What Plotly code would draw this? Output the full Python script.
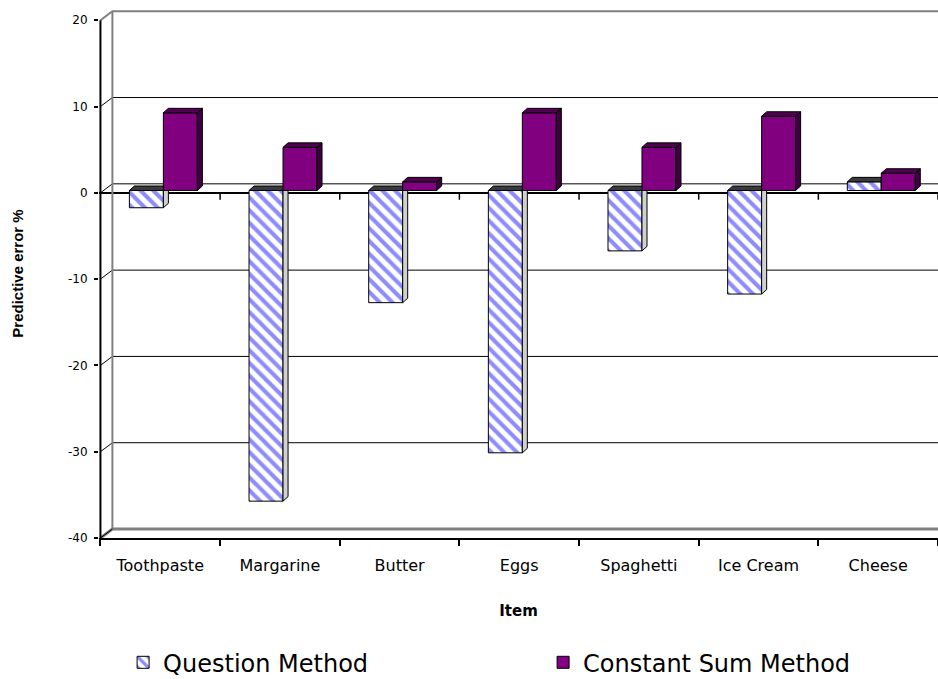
import plotly.graph_objects as go

# ---- data ----------------------------------------------------------------
items = ["Toothpaste", "Margarine", "Butter", "Eggs", "Spaghetti", "Ice Cream", "Cheese"]
question_method = [-2, -36, -13, -30.4, -7, -12, 1]
constant_sum_method = [9, 5, 1, 9, 5, 8.6, 2]
y_tick_values = [-40, -30, -20, -10, 0, 10, 20]
y_tick_text = [str(v) for v in y_tick_values]   # plain hyphen minus signs

# ---- geometry of the pseudo-3D box (axis units) ----------------------------
Y_MIN, Y_MAX = -40, 20
Y_HEADROOM = 1.3            # room above the top tick for the receding wall
X_PAD = 0.012
N = len(items)
WALL_DX, WALL_DY = 0.10, 1.04      # depth of the back wall
BAR_DX, BAR_DY = 0.042, 0.52       # depth of each column
PLANE_DX, PLANE_DY = 0.026, 0.27   # front plane of the columns
BAR_W = 0.284

W, H = 938, 679
LEFT_PX, RIGHT_PX = 100, 938
TOP_PX, BOTTOM_PX = 20, 538
px_x = (RIGHT_PX - LEFT_PX) / N
px_y = (BOTTOM_PX - TOP_PX) / (Y_MAX - Y_MIN)
m_l = LEFT_PX - X_PAD * px_x
m_t = TOP_PX - Y_HEADROOM * px_y
m_b = H - BOTTOM_PX

PURPLE = "#800080"
PURPLE_SIDE = "#3f003f"
PURPLE_TOP = "#520052"
HATCH = "#8c8cff"
GRAY = "#808080"
TICK_FONT = "DejaVu Sans"

fig = go.Figure()


def seg_trace(xs, ys, color, width):
    return go.Scatter(x=xs, y=ys, mode="lines", line=dict(color=color, width=width),
                      hoverinfo="skip", showlegend=False, xaxis="x", yaxis="y")


# back wall gridlines with their receding diagonals
gx, gy = [], []
for v in y_tick_values:
    if v in (Y_MIN, Y_MAX):
        continue
    gx += [0, WALL_DX, N, None]
    gy += [v, v + WALL_DY, v + WALL_DY, None]
fig.add_trace(seg_trace(gx, gy, "black", 1))

# outline of the back wall: top edge, left edge
fig.add_trace(seg_trace([0, WALL_DX, N, None, WALL_DX, WALL_DX],
                        [Y_MAX, Y_MAX + WALL_DY, Y_MAX + WALL_DY, None,
                         Y_MIN + WALL_DY, Y_MAX + WALL_DY], GRAY, 2))
# floor edge
fig.add_trace(seg_trace([0, WALL_DX, N], [Y_MIN, Y_MIN + WALL_DY, Y_MIN + WALL_DY], GRAY, 3))
fig.add_trace(seg_trace([0, WALL_DX], [Y_MIN, Y_MIN + WALL_DY], "black", 1))

# front value axis
fig.add_trace(seg_trace([0, 0], [Y_MIN, Y_MAX], "black", 2))

# category tick marks hanging off the zero line
tx, ty = [], []
for k in range(1, N + 1):
    tx += [k, k, None]
    ty += [0, -0.8, None]
fig.add_trace(seg_trace(tx, ty, "black", 1.5))

centers = [i + 0.5 for i in range(N)]


def add_series(values, name, offset, front, side_color, top_color, xa, ya):
    if front == "hatch":
        marker = dict(color="white",
                      pattern=dict(shape="\\", fgcolor=HATCH, bgcolor="white",
                                   size=9, solidity=0.45, fillmode="replace"),
                      line=dict(color="black", width=1))
    else:
        marker = dict(color=front, line=dict(color="black", width=1))
    fig.add_trace(go.Bar(x=centers, y=values, width=BAR_W, offset=offset, name=name,
                         marker=marker, xaxis=xa, yaxis=ya, hoverinfo="skip"))

    sx, sy, qx, qy = [], [], [], []
    for c, v in zip(centers, values):
        left = c + offset
        right = left + BAR_W
        lo, hi = min(0, v), max(0, v)
        # right-hand side face
        sx += [right, right + BAR_DX, right + BAR_DX, right, right, None]
        sy += [lo, lo + BAR_DY, hi + BAR_DY, hi, lo, None]
        # top face (at the value for positive columns, at zero for negative ones)
        qx += [left, left + BAR_DX, right + BAR_DX, right, left, None]
        qy += [hi, hi + BAR_DY, hi + BAR_DY, hi, hi, None]
    for fx, fy, col in ((sx, sy, side_color), (qx, qy, top_color)):
        fig.add_trace(go.Scatter(x=fx, y=fy, mode="lines", fill="toself", fillcolor=col,
                                 line=dict(color="black", width=1), hoverinfo="skip",
                                 showlegend=False, xaxis=xa, yaxis=ya))


add_series(question_method, "Question Method", -BAR_W, "hatch", "#d0d0d0", "#3a3a3a", "x2", "y2")
add_series(constant_sum_method, "Constant Sum Method", 0, PURPLE, PURPLE_SIDE, PURPLE_TOP, "x3", "y3")

x_main = [-X_PAD, N]
y_main = [Y_MIN, Y_MAX + Y_HEADROOM]
x_bar = [x_main[0] - PLANE_DX, x_main[1] - PLANE_DX]
y_bar = [y_main[0] - PLANE_DY, y_main[1] - PLANE_DY]

hidden = dict(visible=False, showgrid=False, zeroline=False, fixedrange=True)

fig.update_layout(
    width=W, height=H,
    margin=dict(l=m_l, r=0, t=m_t, b=m_b, autoexpand=False),
    paper_bgcolor="white", plot_bgcolor="white",
    barmode="overlay",
    showlegend=True,
    legend=dict(orientation="h", xref="container", yref="container",
                x=0.579, xanchor="center", y=0.024, yanchor="middle",
                font=dict(family=TICK_FONT, size=24, color="black"),
                entrywidth=375, itemwidth=30, traceorder="normal"),
    xaxis=dict(range=x_main, tickvals=centers, ticktext=items,
               ticks="outside", ticklen=12, tickcolor="rgba(0,0,0,0)",
               tickfont=dict(family=TICK_FONT, size=16, color="black"),
               showline=True, linecolor="black", linewidth=2,
               minor=dict(tickvals=list(range(N + 1)), ticks="outside", ticklen=6,
                          tickcolor="black", tickwidth=1.5),
               showgrid=False, zeroline=False, fixedrange=True,
               title=dict(text="<b>Item</b>", standoff=31,
                          font=dict(family=TICK_FONT, size=15, color="black"))),
    yaxis=dict(range=y_main, tickvals=y_tick_values, ticktext=y_tick_text,
               ticks="outside", ticklen=4, tickcolor="black", tickwidth=1.5,
               ticklabelstandoff=4,
               tickfont=dict(family=TICK_FONT, size=12, color="black"),
               showline=False, showgrid=False,
               zeroline=True, zerolinecolor="black", zerolinewidth=2,
               fixedrange=True,
               title=dict(text="<b>Predictive error %</b>", standoff=40,
                          font=dict(family="Liberation Sans", size=15, color="black"))),
    xaxis2=dict(overlaying="x", anchor="y2", range=x_bar, **hidden),
    yaxis2=dict(overlaying="y", anchor="x2", range=y_bar, **hidden),
    xaxis3=dict(overlaying="x", anchor="y3", range=x_bar, **hidden),
    yaxis3=dict(overlaying="y", anchor="x3", range=y_bar, **hidden),
)

fig.write_html("out.html")
